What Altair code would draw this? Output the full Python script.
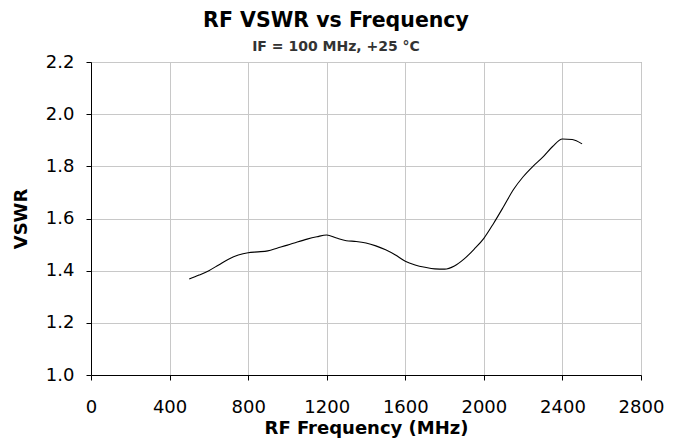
import altair as alt
import pandas as pd

freq_mhz = [500, 550, 600, 650, 700, 750, 800, 850, 900, 950, 1000, 1050, 1100, 1150, 1200,
            1250, 1300, 1350, 1400, 1450, 1500, 1550, 1600, 1650, 1700, 1750, 1800, 1850,
            1900, 1950, 2000, 2050, 2100, 2150, 2200, 2250, 2300, 2350, 2400, 2450, 2500]
vswr = [1.368, 1.383, 1.400, 1.422, 1.444, 1.460, 1.469, 1.472, 1.476, 1.487, 1.498, 1.510,
        1.521, 1.530, 1.537, 1.525, 1.515, 1.512, 1.506, 1.495, 1.480, 1.460, 1.436, 1.422,
        1.413, 1.407, 1.406, 1.418, 1.445, 1.482, 1.524, 1.582, 1.645, 1.710, 1.760, 1.800,
        1.835, 1.876, 1.905, 1.903, 1.886]
x_ticks = [0, 400, 800, 1200, 1600, 2000, 2400, 2800]
y_ticks = [1.0, 1.2, 1.4, 1.6, 1.8, 2.0, 2.2]

df = pd.DataFrame({"freq": freq_mhz, "vswr": vswr})

FONT = "DejaVu Sans"

chart = alt.Chart(df).mark_line(color="black", strokeWidth=1.1, interpolate="monotone").encode(
    x=alt.X("freq:Q",
            scale=alt.Scale(domain=[0, 2800], nice=False),
            axis=alt.Axis(values=x_ticks, title="RF Frequency (MHz)", format="d",
                          titleFontSize=18, titleFontWeight="bold", titleFont=FONT,
                          titleColor="black", titlePadding=3,
                          labelFontSize=18, labelFont=FONT, labelColor="black",
                          labelPadding=18, tickSize=5, tickColor="black",
                          domainColor="black", gridColor="#c8c8c8",
                          labelFlush=False)),
    y=alt.Y("vswr:Q",
            scale=alt.Scale(domain=[1.0, 2.2], nice=False, zero=False),
            axis=alt.Axis(values=y_ticks, title="VSWR", format=".1f",
                          titleFontSize=18, titleFontWeight="bold", titleFont=FONT,
                          titleColor="black", titlePadding=15,
                          labelFontSize=18, labelFont=FONT, labelColor="black",
                          labelPadding=12, tickSize=5, tickColor="black",
                          domainColor="black", gridColor="#c8c8c8")),
).properties(
    width=550,
    height=313,
    autosize=alt.AutoSizeParams(type="none"),
    padding={"left": 83, "top": 54, "right": 30, "bottom": 68},
    title=alt.TitleParams(
        text="RF VSWR vs Frequency",
        subtitle="IF = 100 MHz, +25 °C",
        font=FONT, fontSize=20.5, fontWeight="bold", color="black",
        subtitleFont=FONT, subtitleFontSize=14, subtitleFontWeight="bold",
        subtitleColor="#333333", subtitlePadding=9,
        anchor="middle", dx=-30, dy=5, offset=4,
    ),
).configure_view(stroke="#888888", strokeWidth=1)

chart.save("out.html", embed_options={"renderer": "svg", "actions": False})
